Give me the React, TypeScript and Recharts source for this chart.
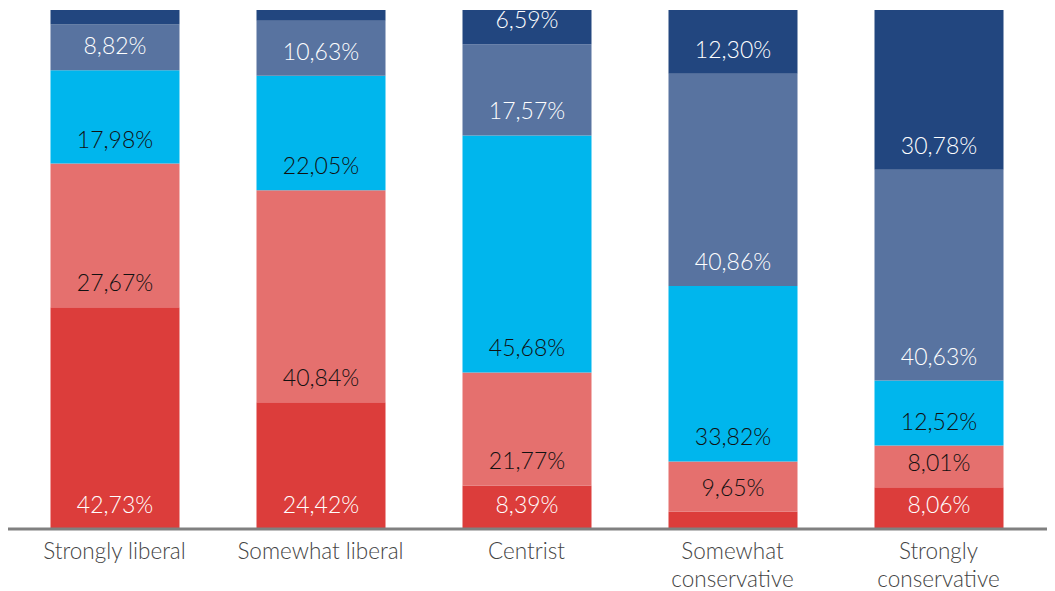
import React from "react";
import { BarChart, Bar, XAxis, YAxis, LabelList } from "recharts";

const categories = ["Strongly liberal", "Somewhat liberal", "Centrist", "Somewhat conservative", "Strongly conservative"];
const tickLines = [["Strongly liberal"], ["Somewhat liberal"], ["Centrist"], ["Somewhat", "conservative"], ["Strongly", "conservative"]];
const s1 = [42.73, 24.42, 8.39, 3.37, 8.06];
const s2 = [27.67, 40.84, 21.77, 9.65, 8.01];
const s3 = [17.98, 22.05, 45.68, 33.82, 12.52];
const s4 = [8.82, 10.63, 17.57, 40.86, 40.63];
const s5 = [2.8, 2.06, 6.59, 12.3, 30.78];
const seriesKeys = ["s1", "s2", "s3", "s4", "s5"];
const colors = ["#dc3d3b", "#e5706e", "#00b6ed", "#5873a0", "#22467f"];
const labelColors = ["#ffffff", "#111111", "#111111", "#ffffff", "#ffffff"];
const hiddenLabels = [
  [false, false, false, true, false],
  [false, false, false, false, false],
  [false, false, false, false, false],
  [false, false, false, false, false],
  [true, true, false, false, false],
];

const data = categories.map((c, i) => ({
  name: c,
  idx: i,
  s1: s1[i],
  s2: s2[i],
  s3: s3[i],
  s4: s4[i],
  s5: s5[i],
}));

const FONT = "Lato, 'Open Sans', sans-serif";

const Tick = (props: any) => {
  const { x, y, payload } = props;
  const lines = tickLines[payload.index] || [payload.value];
  return (
    <text x={x} y={y} textAnchor="middle" fill="#444444" fontFamily={FONT} fontWeight={300} fontSize={22.5}>
      {lines.map((l: string, i: number) => (
        <tspan key={i} x={x} dy={i === 0 ? 22 : 27.5}>{l}</tspan>
      ))}
    </text>
  );
};

const makeLabel = (si: number) => (props: any) => {
  const { x, y, width, height, value, index } = props;
  if (hiddenLabels[si][index]) return null;
  return (
    <text
      x={x + width / 2}
      y={y + height - 25}
      textAnchor="middle"
      dominantBaseline="central"
      fill={labelColors[si]}
      fontFamily={FONT}
      fontWeight={300}
      fontSize={23}
    >
      {value.toFixed(2).replace(".", ",") + "%"}
    </text>
  );
};

export default function App() {
  return (
    <div style={{ position: "absolute", left: 0, top: 0, width: 1055, height: 591, background: "#fff" }}>
      <BarChart
        width={1055}
        height={591}
        data={data}
        margin={{ top: 10, right: 8, left: 8, bottom: 0 }}
        barSize={129}
      >
        <YAxis hide domain={[0, 100]} type="number" allowDataOverflow />
        <XAxis
          dataKey="name"
          height={62}
          padding={{ left: 3.5, right: 5.5 }}
          axisLine={{ stroke: "#808080", strokeWidth: 3 }}
          tickLine={false}
          interval={0}
          tick={<Tick />}
        />
        {seriesKeys.map((k, si) => (
          <Bar key={k} dataKey={k} stackId="a" fill={colors[si]} isAnimationActive={false}>
            <LabelList dataKey={k} content={makeLabel(si)} />
          </Bar>
        ))}
      </BarChart>
    </div>
  );
}
